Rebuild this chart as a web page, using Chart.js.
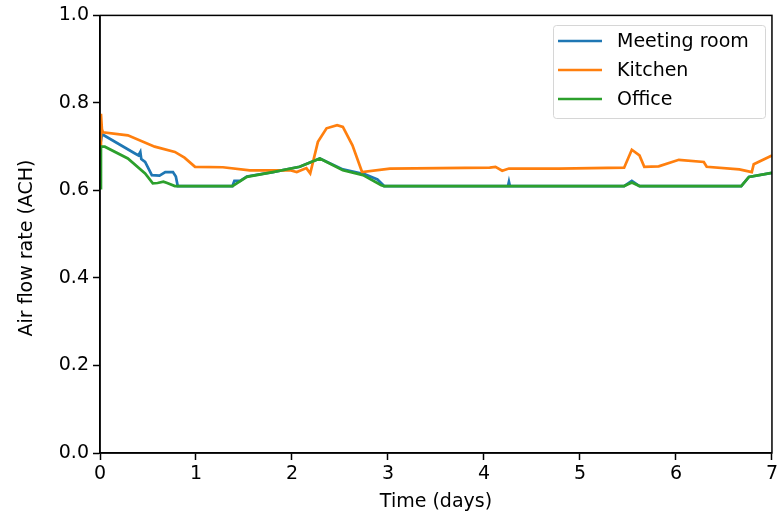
<!DOCTYPE html>
<html>
<head>
<meta charset="utf-8">
<script src="https://cdn.jsdelivr.net/npm/chart.js@4"></script>
<style>
  html, body { margin: 0; padding: 0; background: #fff; }
  #wrap { width: 781px; height: 517px; }
</style>
</head>
<body>
<div id="wrap"><canvas id="chart"></canvas></div>
<script>
// air flow per room over a week (days, ACH)
const seriesNames = ['Meeting room', 'Kitchen', 'Office'];

const meetingDays = [0, 0.02, 0.04, 0.36, 0.40, 0.42, 0.43, 0.47, 0.54, 0.62, 0.68, 0.76, 0.79, 0.81,
  1.38, 1.40, 1.46, 1.53, 1.80, 2.08, 2.29, 2.53, 2.76, 2.89, 2.96,
  4.25, 4.26, 4.27, 5.46, 5.54, 5.62, 6.68, 6.76, 7.0];
const meetingAch = [0.70, 0.728, 0.726, 0.685, 0.680, 0.688, 0.672, 0.665, 0.635, 0.634, 0.642, 0.642, 0.632, 0.61,
  0.61, 0.622, 0.622, 0.632, 0.642, 0.654, 0.673, 0.648, 0.637, 0.625, 0.61,
  0.61, 0.62, 0.61, 0.61, 0.622, 0.61, 0.61, 0.631, 0.64];

const kitchenDays = [0, 0.01, 0.02, 0.03, 0.29, 0.57, 0.78, 0.88, 0.99, 1.28, 1.56, 1.98, 2.05, 2.15, 2.19,
  2.27, 2.36, 2.47, 2.53, 2.63, 2.73, 3.02, 3.54, 4.06, 4.12, 4.19, 4.26, 4.78, 5.46, 5.54, 5.62,
  5.67, 5.82, 6.03, 6.29, 6.32, 6.66, 6.79, 6.81, 7.0];
const kitchenAch = [0.70, 0.775, 0.74, 0.733, 0.726, 0.70, 0.688, 0.675, 0.654, 0.653, 0.646, 0.646, 0.642, 0.651, 0.639,
  0.711, 0.742, 0.749, 0.745, 0.703, 0.642, 0.65, 0.651, 0.652, 0.654, 0.645, 0.65, 0.65, 0.652, 0.693, 0.68,
  0.654, 0.655, 0.67, 0.665, 0.654, 0.648, 0.642, 0.66, 0.68];

const officeDays = [0, 0.01, 0.05, 0.29, 0.47, 0.55, 0.60, 0.66, 0.70, 0.78, 1.38, 1.53, 1.80, 2.08, 2.29,
  2.53, 2.74, 2.93, 2.96, 5.46, 5.54, 5.62, 6.68, 6.76, 7.0];
const officeAch = [0.605, 0.70, 0.70, 0.673, 0.639, 0.616, 0.617, 0.62, 0.617, 0.61, 0.61, 0.631, 0.642, 0.654, 0.673,
  0.646, 0.635, 0.612, 0.61, 0.61, 0.618, 0.61, 0.61, 0.631, 0.64];

const xTicks = [0, 1, 2, 3, 4, 5, 6, 7];
const yTicks = [0.0, 0.2, 0.4, 0.6, 0.8, 1.0];

const colors = ['#1f77b4', '#ff7f0e', '#2ca02c'];
const FONT = 'DejaVu Sans';
const yTitle = 'Air flow rate (ACH)';

function toPoints(xs, ys) {
  return xs.map((x, i) => ({ x: x, y: ys[i] }));
}

// matplotlib-like frame, y title and legend box
const framePlugin = {
  id: 'frame',
  afterDraw(chart) {
    const ctx = chart.ctx;
    const a = chart.chartArea;
    ctx.save();
    ctx.strokeStyle = '#000';
    ctx.lineWidth = 1.5;
    ctx.strokeRect(a.left, a.top, a.right - a.left, a.bottom - a.top);

    // y axis title, sits a bit lower than the axis middle in the original
    ctx.save();
    ctx.translate(27, 248);
    ctx.rotate(-Math.PI / 2);
    ctx.font = '19px "' + FONT + '"';
    ctx.fillStyle = '#000';
    ctx.textAlign = 'center';
    ctx.textBaseline = 'middle';
    ctx.fillText(yTitle, 0, 0);
    ctx.restore();

    // legend
    const bx = 553, by = 25, bw = 212, bh = 93;
    ctx.fillStyle = 'rgba(255,255,255,0.8)';
    ctx.strokeStyle = '#d6d6d6';
    ctx.lineWidth = 1;
    ctx.beginPath();
    ctx.roundRect(bx + 0.5, by + 0.5, bw, bh, 3);
    ctx.fill();
    ctx.stroke();
    ctx.font = '19px "' + FONT + '"';
    ctx.textBaseline = 'middle';
    ctx.textAlign = 'left';
    chart.data.datasets.forEach((ds, i) => {
      const y = 41 + i * 29;
      ctx.strokeStyle = ds.borderColor;
      ctx.lineWidth = 2.7;
      ctx.beginPath();
      ctx.moveTo(558, y);
      ctx.lineTo(602, y);
      ctx.stroke();
      ctx.fillStyle = '#000';
      ctx.fillText(ds.label, 617, y + 1);
    });
    ctx.restore();
  }
};

const datasets = [
  toPoints(meetingDays, meetingAch),
  toPoints(kitchenDays, kitchenAch),
  toPoints(officeDays, officeAch)
].map((pts, i) => ({
  label: seriesNames[i],
  data: pts,
  borderColor: colors[i],
  backgroundColor: colors[i],
  borderWidth: 2.7,
  pointRadius: 0,
  tension: 0,
  fill: false,
  order: 3 - i
}));

new Chart(document.getElementById('chart'), {
  type: 'line',
  data: { datasets: datasets },
  plugins: [framePlugin],
  options: {
    responsive: true,
    maintainAspectRatio: false,
    animation: false,
    layout: { padding: { top: 15, right: 8, left: 0, bottom: 0 } },
    plugins: {
      legend: { display: false },
      tooltip: { enabled: false }
    },
    scales: {
      x: {
        type: 'linear',
        min: 0,
        max: 7,
        afterBuildTicks(axis) { axis.ticks = xTicks.map(v => ({ value: v })); },
        afterFit(axis) { axis.height = 64; },
        grid: { display: true, drawOnChartArea: false, drawTicks: true, tickLength: 7, tickWidth: 1.5, tickColor: '#000' },
        border: { display: true, color: '#000', width: 1.5 },
        ticks: { color: '#000', font: { family: FONT, size: 19 }, padding: 3, maxRotation: 0 },
        title: { display: true, text: 'Time (days)', color: '#000', font: { family: FONT, size: 19 }, padding: { top: 0, bottom: 4 } }
      },
      y: {
        min: 0,
        max: 1,
        afterBuildTicks(axis) { axis.ticks = yTicks.map(v => ({ value: v })); },
        afterFit(axis) { axis.width = 100; },
        grid: { display: true, drawOnChartArea: false, drawTicks: true, tickLength: 7, tickWidth: 1.5, tickColor: '#000' },
        border: { display: true, color: '#000', width: 1.5 },
        ticks: { color: '#000', font: { family: FONT, size: 19 }, padding: 4, callback: v => v.toFixed(1) }
      }
    }
  }
});
</script>
</body>
</html>
